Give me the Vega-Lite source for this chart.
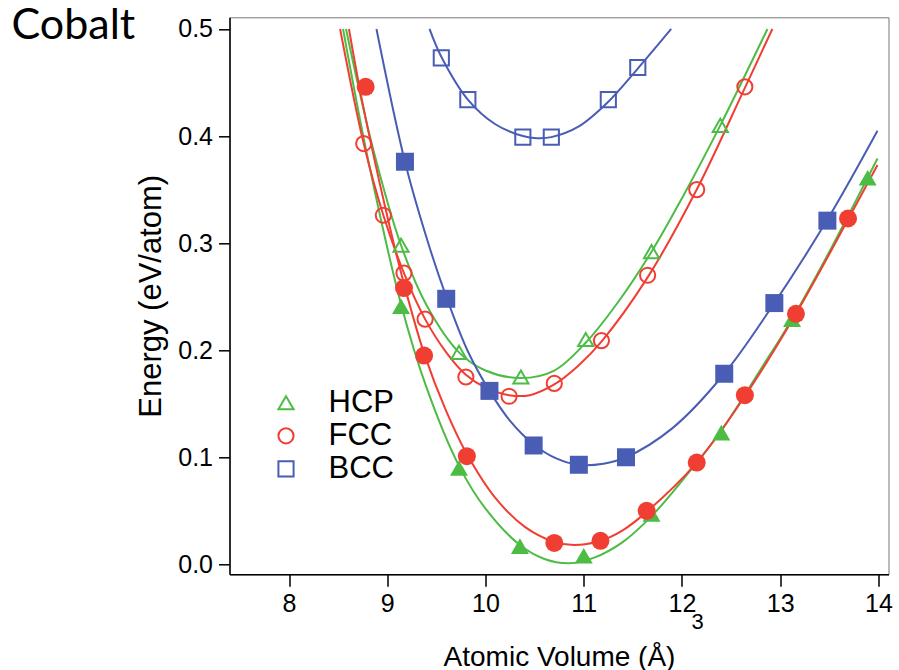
{
  "$schema": "https://vega.github.io/schema/vega-lite/v6.json",
  "autosize": "none",
  "width": 659,
  "height": 557,
  "padding": {"left": 229.5, "top": 17.3, "right": 10.5, "bottom": 95.7},
  "background": "white",
  "title": {"text": "Cobalt", "anchor": "start", "frame": "group", "orient": "top", "offset": 0, "font": "Lato", "fontSize": 43, "fontWeight": "normal", "color": "black", "baseline": "alphabetic", "dx": -218, "dy": 65},
  "config": {
    "view": {"stroke": "#777", "strokeWidth": 1},
    "font": "Liberation Sans",
    "axis": {"domainColor": "black", "domainWidth": 1.5, "tickColor": "black", "tickWidth": 1.5, "grid": false, "labelFont": "Liberation Sans", "titleFont": "Liberation Sans", "labelColor": "black", "titleColor": "black", "labelFontSize": 25, "titleFontSize": 28, "titleFontWeight": "normal"},
    "legend": {"labelFont": "Liberation Sans", "labelFontSize": 31, "labelColor": "black", "symbolStrokeWidth": 2, "symbolSize": 230, "rowPadding": 1, "labelOffset": 27}
  },
  "datasets": {
    "curves": [
      {"s": "HCP", "g": "hcp_s", "x": 8.55, "y": 0.50}, {"s": "HCP", "g": "hcp_s", "x": 8.8, "y": 0.38}, {"s": "HCP", "g": "hcp_s", "x": 9.14, "y": 0.243}, {"s": "HCP", "g": "hcp_s", "x": 9.4, "y": 0.165}, {"s": "HCP", "g": "hcp_s", "x": 9.73, "y": 0.092}, {"s": "HCP", "g": "hcp_s", "x": 10.0, "y": 0.052}, {"s": "HCP", "g": "hcp_s", "x": 10.35, "y": 0.018}, {"s": "HCP", "g": "hcp_s", "x": 10.6, "y": 0.005}, {"s": "HCP", "g": "hcp_s", "x": 10.85, "y": 0.001}, {"s": "HCP", "g": "hcp_s", "x": 11.1, "y": 0.006}, {"s": "HCP", "g": "hcp_s", "x": 11.4, "y": 0.021}, {"s": "HCP", "g": "hcp_s", "x": 11.69, "y": 0.045}, {"s": "HCP", "g": "hcp_s", "x": 12.0, "y": 0.078}, {"s": "HCP", "g": "hcp_s", "x": 12.4, "y": 0.125}, {"s": "HCP", "g": "hcp_s", "x": 12.8, "y": 0.182}, {"s": "HCP", "g": "hcp_s", "x": 13.12, "y": 0.229}, {"s": "HCP", "g": "hcp_s", "x": 13.5, "y": 0.292}, {"s": "HCP", "g": "hcp_s", "x": 13.99, "y": 0.379},
      {"s": "HCP", "g": "hcp_o", "x": 8.58, "y": 0.50}, {"s": "HCP", "g": "hcp_o", "x": 8.85, "y": 0.39}, {"s": "HCP", "g": "hcp_o", "x": 9.14, "y": 0.298}, {"s": "HCP", "g": "hcp_o", "x": 9.4, "y": 0.242}, {"s": "HCP", "g": "hcp_o", "x": 9.73, "y": 0.198}, {"s": "HCP", "g": "hcp_o", "x": 10.0, "y": 0.181}, {"s": "HCP", "g": "hcp_o", "x": 10.36, "y": 0.174}, {"s": "HCP", "g": "hcp_o", "x": 10.7, "y": 0.181}, {"s": "HCP", "g": "hcp_o", "x": 11.02, "y": 0.207}, {"s": "HCP", "g": "hcp_o", "x": 11.35, "y": 0.245}, {"s": "HCP", "g": "hcp_o", "x": 11.69, "y": 0.292}, {"s": "HCP", "g": "hcp_o", "x": 12.0, "y": 0.342}, {"s": "HCP", "g": "hcp_o", "x": 12.39, "y": 0.410}, {"s": "HCP", "g": "hcp_o", "x": 12.87, "y": 0.50},
      {"s": "FCC", "g": "fcc_s", "x": 8.61, "y": 0.50}, {"s": "FCC", "g": "fcc_s", "x": 8.75, "y": 0.43}, {"s": "FCC", "g": "fcc_s", "x": 9.0, "y": 0.325}, {"s": "FCC", "g": "fcc_s", "x": 9.17, "y": 0.262}, {"s": "FCC", "g": "fcc_s", "x": 9.375, "y": 0.197}, {"s": "FCC", "g": "fcc_s", "x": 9.6, "y": 0.143}, {"s": "FCC", "g": "fcc_s", "x": 9.81, "y": 0.103}, {"s": "FCC", "g": "fcc_s", "x": 10.1, "y": 0.062}, {"s": "FCC", "g": "fcc_s", "x": 10.4, "y": 0.035}, {"s": "FCC", "g": "fcc_s", "x": 10.7, "y": 0.021}, {"s": "FCC", "g": "fcc_s", "x": 10.9, "y": 0.018}, {"s": "FCC", "g": "fcc_s", "x": 11.17, "y": 0.022}, {"s": "FCC", "g": "fcc_s", "x": 11.4, "y": 0.032}, {"s": "FCC", "g": "fcc_s", "x": 11.64, "y": 0.049}, {"s": "FCC", "g": "fcc_s", "x": 12.15, "y": 0.095}, {"s": "FCC", "g": "fcc_s", "x": 12.64, "y": 0.157}, {"s": "FCC", "g": "fcc_s", "x": 13.16, "y": 0.234}, {"s": "FCC", "g": "fcc_s", "x": 13.69, "y": 0.322}, {"s": "FCC", "g": "fcc_s", "x": 13.99, "y": 0.373},
      {"s": "FCC", "g": "fcc_o", "x": 8.52, "y": 0.50}, {"s": "FCC", "g": "fcc_o", "x": 8.76, "y": 0.393}, {"s": "FCC", "g": "fcc_o", "x": 8.96, "y": 0.326}, {"s": "FCC", "g": "fcc_o", "x": 9.17, "y": 0.272}, {"s": "FCC", "g": "fcc_o", "x": 9.385, "y": 0.229}, {"s": "FCC", "g": "fcc_o", "x": 9.6, "y": 0.198}, {"s": "FCC", "g": "fcc_o", "x": 9.8, "y": 0.177}, {"s": "FCC", "g": "fcc_o", "x": 10.0, "y": 0.165}, {"s": "FCC", "g": "fcc_o", "x": 10.24, "y": 0.158}, {"s": "FCC", "g": "fcc_o", "x": 10.45, "y": 0.158}, {"s": "FCC", "g": "fcc_o", "x": 10.7, "y": 0.168}, {"s": "FCC", "g": "fcc_o", "x": 10.95, "y": 0.186}, {"s": "FCC", "g": "fcc_o", "x": 11.18, "y": 0.208}, {"s": "FCC", "g": "fcc_o", "x": 11.65, "y": 0.268}, {"s": "FCC", "g": "fcc_o", "x": 12.15, "y": 0.350}, {"s": "FCC", "g": "fcc_o", "x": 12.64, "y": 0.445}, {"s": "FCC", "g": "fcc_o", "x": 12.92, "y": 0.50},
      {"s": "BCC", "g": "bcc_s", "x": 8.89, "y": 0.50}, {"s": "BCC", "g": "bcc_s", "x": 9.18, "y": 0.376}, {"s": "BCC", "g": "bcc_s", "x": 9.4, "y": 0.305}, {"s": "BCC", "g": "bcc_s", "x": 9.6, "y": 0.250}, {"s": "BCC", "g": "bcc_s", "x": 9.82, "y": 0.199}, {"s": "BCC", "g": "bcc_s", "x": 10.04, "y": 0.162}, {"s": "BCC", "g": "bcc_s", "x": 10.25, "y": 0.134}, {"s": "BCC", "g": "bcc_s", "x": 10.49, "y": 0.112}, {"s": "BCC", "g": "bcc_s", "x": 10.72, "y": 0.099}, {"s": "BCC", "g": "bcc_s", "x": 10.95, "y": 0.093}, {"s": "BCC", "g": "bcc_s", "x": 11.2, "y": 0.094}, {"s": "BCC", "g": "bcc_s", "x": 11.43, "y": 0.100}, {"s": "BCC", "g": "bcc_s", "x": 11.9, "y": 0.127}, {"s": "BCC", "g": "bcc_s", "x": 12.43, "y": 0.178}, {"s": "BCC", "g": "bcc_s", "x": 12.94, "y": 0.244}, {"s": "BCC", "g": "bcc_s", "x": 13.48, "y": 0.322}, {"s": "BCC", "g": "bcc_s", "x": 13.99, "y": 0.405},
      {"s": "BCC", "g": "bcc_o", "x": 9.43, "y": 0.50}, {"s": "BCC", "g": "bcc_o", "x": 9.55, "y": 0.474}, {"s": "BCC", "g": "bcc_o", "x": 9.82, "y": 0.434}, {"s": "BCC", "g": "bcc_o", "x": 10.1, "y": 0.411}, {"s": "BCC", "g": "bcc_o", "x": 10.38, "y": 0.400}, {"s": "BCC", "g": "bcc_o", "x": 10.52, "y": 0.398}, {"s": "BCC", "g": "bcc_o", "x": 10.67, "y": 0.399}, {"s": "BCC", "g": "bcc_o", "x": 10.95, "y": 0.409}, {"s": "BCC", "g": "bcc_o", "x": 11.25, "y": 0.432}, {"s": "BCC", "g": "bcc_o", "x": 11.55, "y": 0.463}, {"s": "BCC", "g": "bcc_o", "x": 11.89, "y": 0.50}
    ],
    "points": [
      {"s": "HCP", "f": "open", "x": 9.14, "y": 0.298}, {"s": "HCP", "f": "open", "x": 9.73, "y": 0.198}, {"s": "HCP", "f": "open", "x": 10.36, "y": 0.175}, {"s": "HCP", "f": "open", "x": 11.02, "y": 0.210}, {"s": "HCP", "f": "open", "x": 11.69, "y": 0.292}, {"s": "HCP", "f": "open", "x": 12.39, "y": 0.410},
      {"s": "HCP", "f": "solid", "x": 9.14, "y": 0.241}, {"s": "HCP", "f": "solid", "x": 9.73, "y": 0.090}, {"s": "HCP", "f": "solid", "x": 10.35, "y": 0.017}, {"s": "HCP", "f": "solid", "x": 11.0, "y": 0.008}, {"s": "HCP", "f": "solid", "x": 11.69, "y": 0.047}, {"s": "HCP", "f": "solid", "x": 12.40, "y": 0.123}, {"s": "HCP", "f": "solid", "x": 13.12, "y": 0.229}, {"s": "HCP", "f": "solid", "x": 13.89, "y": 0.361},
      {"s": "FCC", "f": "open", "x": 8.76, "y": 0.393}, {"s": "FCC", "f": "open", "x": 8.96, "y": 0.326}, {"s": "FCC", "f": "open", "x": 9.17, "y": 0.272}, {"s": "FCC", "f": "open", "x": 9.385, "y": 0.229}, {"s": "FCC", "f": "open", "x": 9.80, "y": 0.175}, {"s": "FCC", "f": "open", "x": 10.24, "y": 0.157}, {"s": "FCC", "f": "open", "x": 10.70, "y": 0.169}, {"s": "FCC", "f": "open", "x": 11.18, "y": 0.209}, {"s": "FCC", "f": "open", "x": 11.65, "y": 0.270}, {"s": "FCC", "f": "open", "x": 12.15, "y": 0.350}, {"s": "FCC", "f": "open", "x": 12.64, "y": 0.446},
      {"s": "FCC", "f": "solid", "x": 8.78, "y": 0.446}, {"s": "FCC", "f": "solid", "x": 9.17, "y": 0.258}, {"s": "FCC", "f": "solid", "x": 9.375, "y": 0.195}, {"s": "FCC", "f": "solid", "x": 9.81, "y": 0.101}, {"s": "FCC", "f": "solid", "x": 10.70, "y": 0.020}, {"s": "FCC", "f": "solid", "x": 11.17, "y": 0.022}, {"s": "FCC", "f": "solid", "x": 11.64, "y": 0.050}, {"s": "FCC", "f": "solid", "x": 12.15, "y": 0.095}, {"s": "FCC", "f": "solid", "x": 12.64, "y": 0.158}, {"s": "FCC", "f": "solid", "x": 13.16, "y": 0.234}, {"s": "FCC", "f": "solid", "x": 13.69, "y": 0.323},
      {"s": "BCC", "f": "open", "x": 9.55, "y": 0.473}, {"s": "BCC", "f": "open", "x": 9.82, "y": 0.434}, {"s": "BCC", "f": "open", "x": 10.38, "y": 0.399}, {"s": "BCC", "f": "open", "x": 10.67, "y": 0.399}, {"s": "BCC", "f": "open", "x": 11.25, "y": 0.434}, {"s": "BCC", "f": "open", "x": 11.55, "y": 0.464},
      {"s": "BCC", "f": "solid", "x": 9.18, "y": 0.376}, {"s": "BCC", "f": "solid", "x": 9.60, "y": 0.248}, {"s": "BCC", "f": "solid", "x": 10.04, "y": 0.162}, {"s": "BCC", "f": "solid", "x": 10.49, "y": 0.111}, {"s": "BCC", "f": "solid", "x": 10.95, "y": 0.093}, {"s": "BCC", "f": "solid", "x": 11.43, "y": 0.100}, {"s": "BCC", "f": "solid", "x": 12.43, "y": 0.178}, {"s": "BCC", "f": "solid", "x": 12.94, "y": 0.244}, {"s": "BCC", "f": "solid", "x": 13.48, "y": 0.321}
    ],
    "notes": [{"t": "3", "x": 12.16, "y": -0.054}]
  },
  "layer": [
    {
      "data": {"name": "curves"},
      "mark": {"type": "line", "strokeWidth": 2, "interpolate": "catmull-rom", "clip": true},
      "encoding": {
        "x": {"field": "x", "type": "quantitative", "scale": {"domain": [7.394, 14.102], "nice": false, "zero": false}, "axis": {"values": [8, 9, 10, 11, 12, 13, 14], "format": "d", "title": "Atomic Volume (Å)", "tickSize": 12, "labelPadding": 5, "titlePadding": 27}},
        "y": {"field": "y", "type": "quantitative", "scale": {"domain": [-0.0093, 0.5109], "nice": false, "zero": false}, "axis": {"values": [0, 0.1, 0.2, 0.3, 0.4, 0.5], "format": ".1f", "title": "Energy (eV/atom)", "titleFontSize": 31, "tickSize": 11, "labelPadding": 6, "titlePadding": 10}},
        "color": {"field": "s", "type": "nominal", "scale": {"domain": ["HCP", "FCC", "BCC"], "range": ["#4dbc45", "#f03e33", "#4a5db5"]}},
        "detail": {"field": "g", "type": "nominal"}
      }
    },
    {
      "data": {"name": "points"},
      "transform": [{"filter": "datum.f === 'open'"}],
      "mark": {"type": "point", "filled": false, "strokeWidth": 2, "size": 230, "opacity": 1},
      "encoding": {
        "x": {"field": "x", "type": "quantitative"},
        "y": {"field": "y", "type": "quantitative"},
        "color": {"field": "s", "type": "nominal", "legend": {"title": null, "orient": "none", "legendX": 41, "legendY": 370, "symbolStrokeWidth": 2, "symbolSize": 230}},
        "shape": {"field": "s", "type": "nominal", "scale": {"domain": ["HCP", "FCC", "BCC"], "range": ["triangle-up", "circle", "square"]}}
      }
    },
    {
      "data": {"name": "points"},
      "transform": [{"filter": "datum.f === 'solid' && datum.s === 'HCP'"}],
      "mark": {"type": "point", "filled": true, "size": 324, "opacity": 1, "shape": "triangle-up", "color": "#4dbc45"},
      "encoding": {
        "x": {"field": "x", "type": "quantitative"},
        "y": {"field": "y", "type": "quantitative"}
      }
    },
    {
      "data": {"name": "points"},
      "transform": [{"filter": "datum.f === 'solid' && datum.s === 'FCC'"}],
      "mark": {"type": "point", "filled": true, "size": 324, "opacity": 1, "shape": "circle", "color": "#f03e33"},
      "encoding": {
        "x": {"field": "x", "type": "quantitative"},
        "y": {"field": "y", "type": "quantitative"}
      }
    },
    {
      "data": {"name": "points"},
      "transform": [{"filter": "datum.f === 'solid' && datum.s === 'BCC'"}],
      "mark": {"type": "point", "filled": true, "size": 324, "opacity": 1, "shape": "square", "color": "#4a5db5"},
      "encoding": {
        "x": {"field": "x", "type": "quantitative"},
        "y": {"field": "y", "type": "quantitative"}
      }
    },
    {
      "data": {"name": "notes"},
      "mark": {"type": "text", "font": "Liberation Sans", "fontSize": 22, "color": "black", "align": "center", "baseline": "middle"},
      "encoding": {
        "x": {"field": "x", "type": "quantitative"},
        "y": {"field": "y", "type": "quantitative"},
        "text": {"field": "t"}
      }
    }
  ]
}
